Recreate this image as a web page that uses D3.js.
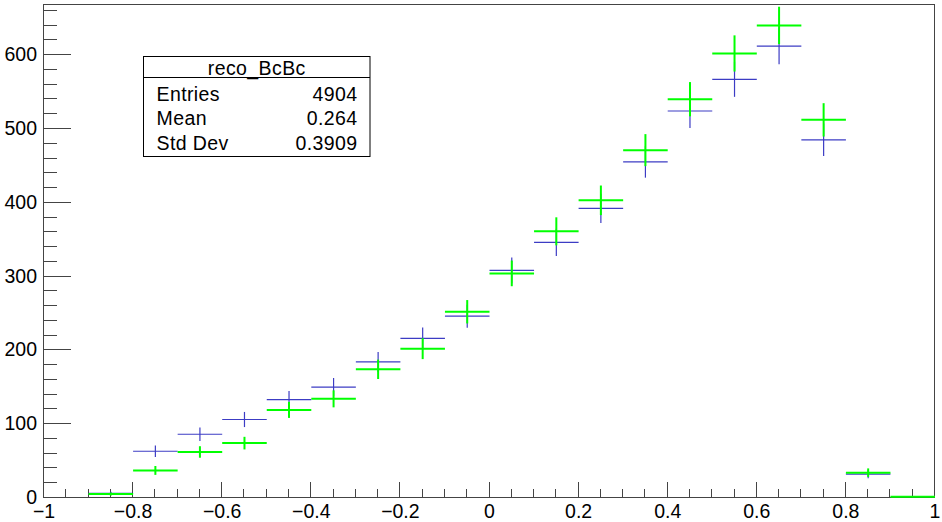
<!DOCTYPE html>
<html>
<head>
<meta charset="utf-8">
<script src="https://cdn.jsdelivr.net/npm/d3@7"></script>
<style>
  body { margin: 0; background: #fff; }
  svg { display: block; font-family: "Liberation Sans", Arial, sans-serif; }
</style>
</head>
<body>
<svg width="942" height="522"></svg>
<script>
// bin centres, 20 bins of 0.1 from -1 to 1
var binCenters = [-0.95,-0.85,-0.75,-0.65,-0.55,-0.45,-0.35,-0.25,-0.15,-0.05,
                  0.05,0.15,0.25,0.35,0.45,0.55,0.65,0.75,0.85,0.95];
var blueVals  = [0,5,62,85,105,132,149,183,215,245,307,345,391,454,523,566,611,484,31,0];
var greenVals = [0,4,36,61,73,118,133,173,201,251,303,360,402,470,539,601,639,511,33,0.5];
var binWidth = 0.1;

var xTicks = [-1,-0.8,-0.6,-0.4,-0.2,0,0.2,0.4,0.6,0.8,1];
var yTicks = [0,100,200,300,400,500,600];
var yMax = 668;

var statsTitle = "reco_BcBc";
var statsRows = [["Entries","4904"],["Mean","0.264"],["Std Dev","0.3909"]];

var svg = d3.select("svg");
var padL = 44, padR = 935, padT = 4, padB = 497;

var x = d3.scaleLinear().domain([-1,1]).range([padL,padR]);
var y = d3.scaleLinear().domain([0,yMax]).range([padB,padT]);

// frame
svg.append("rect")
  .attr("x",padL-0.5).attr("y",padT+0.5)
  .attr("width",padR-padL).attr("height",padB-padT)
  .attr("fill","none").attr("stroke","#444").attr("stroke-width",1);

// x axis ticks (pointing up)
var xMinor = d3.range(-1,1.0001,0.05);
svg.append("g").selectAll("line").data(xMinor).enter().append("line")
  .attr("x1",d=>Math.round(x(d))-0.5).attr("x2",d=>Math.round(x(d))-0.5)
  .attr("y1",padB)
  .attr("y2",d=> Math.abs(Math.round(d*5)-d*5)<1e-6 ? padB-15 : padB-8)
  .attr("stroke","#444");

svg.append("g").selectAll("text").data(xTicks).enter().append("text")
  .attr("x",d=>x(d)).attr("y",518)
  .attr("text-anchor","middle")
  .attr("font-size",19.5)
  .text(d=>d3.format("")(d).replace("-","\u2212"));

// y axis ticks (pointing right)
var yMinor = d3.range(0,yMax,20);
svg.append("g").selectAll("line").data(yMinor).enter().append("line")
  .attr("x1",padL).attr("x2",d=> d%100===0 ? padL+27 : padL+13)
  .attr("y1",d=>Math.round(y(d))+0.5).attr("y2",d=>Math.round(y(d))+0.5)
  .attr("stroke","#444");

svg.append("g").selectAll("text").data(yTicks).enter().append("text")
  .attr("x",37).attr("y",d=>y(d)+7)
  .attr("text-anchor","end")
  .attr("font-size",19.5)
  .text(d=>d);

// histograms with sqrt(N) error bars
function drawHist(vals,color,w){
  var g = svg.append("g").attr("stroke",color).attr("stroke-width",w);
  vals.forEach(function(v,i){
    if(v<=0) return;
    var c = binCenters[i], e = Math.sqrt(v);
    g.append("line")
      .attr("x1",x(c-binWidth/2)).attr("x2",x(c+binWidth/2))
      .attr("y1",y(v)).attr("y2",y(v));
    g.append("line")
      .attr("x1",x(c)).attr("x2",x(c))
      .attr("y1",y(v-e)).attr("y2",y(v+e));
  });
}
drawHist(blueVals,"#3c3cc4",1.2);
drawHist(greenVals,"#00ff00",2);

// stats box
var sx0 = 143.5, sx1 = 370, sy0 = 56.5, sy1 = 156.5;
var stats = svg.append("g").attr("letter-spacing",0.4);
stats.append("rect").attr("x",sx0).attr("y",sy0)
  .attr("width",sx1-sx0).attr("height",sy1-sy0)
  .attr("fill","#fff").attr("stroke","#000");
stats.append("line").attr("x1",sx0).attr("x2",sx1)
  .attr("y1",77.5).attr("y2",77.5).attr("stroke","#000");
stats.append("text").attr("x",(sx0+sx1)/2).attr("y",74.5)
  .attr("text-anchor","middle").attr("font-size",19.5).text(statsTitle);
statsRows.forEach(function(r,i){
  var by = 100.5 + i*24.7;
  stats.append("text").attr("x",156.5).attr("y",by)
    .attr("font-size",19.5).text(r[0]);
  stats.append("text").attr("x",357.5).attr("y",by)
    .attr("text-anchor","end").attr("font-size",19.5).text(r[1]);
});
</script>
</body>
</html>
